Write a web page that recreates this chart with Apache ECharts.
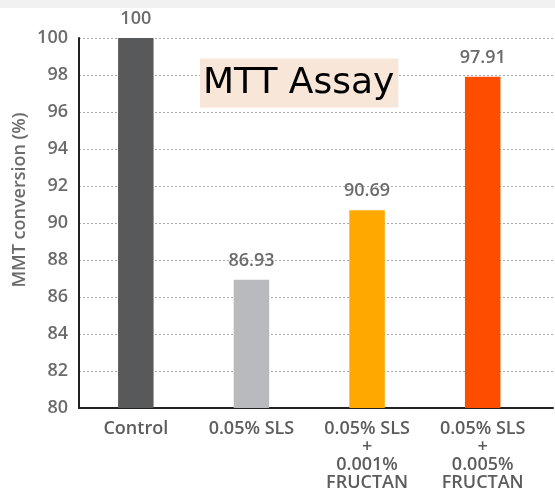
<!DOCTYPE html>
<html><head><meta charset="utf-8">
<script src="https://cdn.jsdelivr.net/npm/echarts@6/dist/echarts.min.js"></script>
<style>html,body{margin:0;padding:0;background:#fff}#c{width:555px;height:492px}</style>
</head><body><div id="c"></div>
<script>
const categories = ['Control', '0.05% SLS', '0.05% SLS\n+\n0.001%\nFRUCTAN', '0.05% SLS\n+\n0.005%\nFRUCTAN'];
const values = [100, 86.93, 90.69, 97.91];
const barColors = ['#58595b', '#b8babd', '#ffa900', '#ff4d00'];
const yMin = 80, yMax = 100, yStep = 2;

const chart = echarts.init(document.getElementById('c'));
const font = 'Open Sans';
chart.setOption({
  animation: false,
  title: {
    text: 'MTT Assay', left: 200, top: 59,
    backgroundColor: '#f8e6d8', padding: [7, 4, 6, 3],
    textStyle: { fontFamily: 'DejaVu Sans', fontSize: 36, fontWeight: 'normal', color: '#000', lineHeight: 35 }
  },
  graphic: [
    { type: 'rect', left: 0, top: 0, shape: { width: 555, height: 8 }, style: { fill: '#f1f1f1' }, silent: true },
    { type: 'text', x: 20, y: 200, rotation: Math.PI / 2,
      style: { text: 'MMT conversion (%)', fontFamily: font, fontSize: 18, fontWeight: 600, fill: '#6b6b6b', align: 'center', verticalAlign: 'middle' } }
  ],
  grid: [
    { left: 78, right: 14.5, top: 38, bottom: 84 },
    { left: 79, right: 2, top: 38, bottom: 84 }
  ],
  xAxis: [
    { type: 'category', gridIndex: 0, data: categories,
      axisLine: { show: false }, axisTick: { show: false },
      axisLabel: { fontFamily: font, fontSize: 18, fontWeight: 600, color: '#5c5c5c', lineHeight: 18, margin: 12, interval: 0 } },
    { type: 'value', gridIndex: 1, min: 0, max: 1, show: true,
      axisLine: { show: true, onZero: false, lineStyle: { color: '#222', width: 2 } },
      axisTick: { show: false }, axisLabel: { show: false }, splitLine: { show: false } }
  ],
  yAxis: [
    { type: 'value', gridIndex: 0, min: yMin, max: yMax, interval: yStep, show: false },
    { type: 'value', gridIndex: 1, min: yMin, max: yMax, interval: yStep,
      axisLine: { show: true, lineStyle: { color: '#222', width: 2 } },
      axisTick: { show: false },
      axisLabel: { fontFamily: font, fontSize: 18, fontWeight: 600, color: '#6b6b6b', margin: 11 },
      splitLine: { show: true, lineStyle: { color: '#aaa', type: [2, 2], width: 1 } } }
  ],
  series: [{
    type: 'bar', xAxisIndex: 0, yAxisIndex: 0, barWidth: 35.5,
    data: values.map((v, i) => ({ value: v, itemStyle: { color: barColors[i] } })),
    label: { show: true, position: 'top', distance: 10, fontFamily: font, fontSize: 18, fontWeight: 600, color: '#6b6b6b',
      formatter: p => String(p.value) }
  }]
});
</script></body></html>
